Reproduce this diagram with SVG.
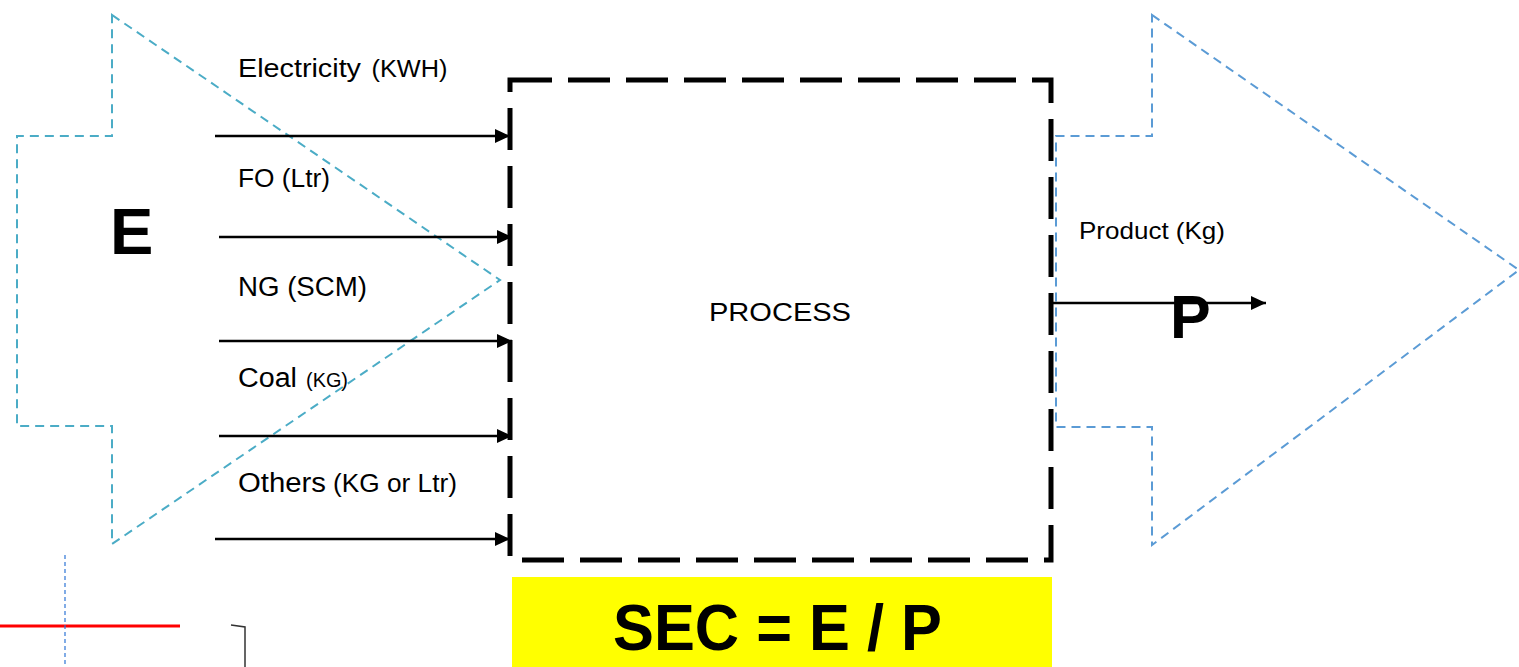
<svg xmlns="http://www.w3.org/2000/svg" width="1519" height="667" viewBox="0 0 1519 667">
<style>
.t{font-family:"Liberation Sans",Arial,sans-serif;fill:#000}
.b{font-weight:bold}
.conn{stroke:#000;stroke-width:2.5;fill:none;marker-end:url(#ah)}
</style>
<defs>
<marker id="ah" markerWidth="15" markerHeight="14" refX="15" refY="7" orient="auto" markerUnits="userSpaceOnUse">
<path d="M0,0 L15,7 L0,14 Z" fill="#000"/>
</marker>
</defs>
<rect width="1519" height="667" fill="#fff"/>
<g id="energy-arrow">
<polygon points="112,15 500,280 112,544 112,426 17,426 17,136 112,136" fill="none" stroke="#4BACC6" stroke-width="2" stroke-dasharray="9,6"/>
<text class="t b" x="110" y="254" font-size="65">E</text>
</g>
<g id="product-arrow">
<polygon points="1152,15 1519,270 1152,545 1152,427 1056,427 1056,136 1152,136" fill="none" stroke="#5B9BD5" stroke-width="2" stroke-dasharray="9,6"/>
</g>
<g id="process">
<rect x="510" y="80" width="541" height="480" fill="none" stroke="#000" stroke-width="5" stroke-dasharray="42,16"/>
<text class="t" x="709" y="321" font-size="26" textLength="142" lengthAdjust="spacingAndGlyphs">PROCESS</text>
</g>
<g id="connectors">
<line class="conn" x1="215" y1="136" x2="510" y2="136"/>
<line class="conn" x1="219" y1="237" x2="512" y2="237"/>
<line class="conn" x1="219" y1="341" x2="512" y2="341"/>
<line class="conn" x1="219" y1="436" x2="512" y2="436"/>
<line class="conn" x1="215" y1="539" x2="510" y2="539"/>
<line class="conn" x1="1053" y1="303" x2="1266" y2="303"/>
</g>
<g id="labels">
<text class="t" x="238" y="77" font-size="26" textLength="123" lengthAdjust="spacingAndGlyphs">Electricity</text>
<text class="t" x="371.5" y="77" font-size="23" textLength="76" lengthAdjust="spacingAndGlyphs">(KWH)</text>
<text class="t" x="238" y="187" font-size="25" textLength="92" lengthAdjust="spacingAndGlyphs">FO (Ltr)</text>
<text class="t" x="238" y="296" font-size="27" textLength="129" lengthAdjust="spacingAndGlyphs">NG (SCM)</text>
<text class="t" x="238" y="387" font-size="27" textLength="59" lengthAdjust="spacingAndGlyphs">Coal</text>
<text class="t" x="306" y="387" font-size="21" textLength="42" lengthAdjust="spacingAndGlyphs">(KG)</text>
<text class="t" x="238" y="492" font-size="27" textLength="88" lengthAdjust="spacingAndGlyphs">Others</text>
<text class="t" x="333" y="492" font-size="25" textLength="124" lengthAdjust="spacingAndGlyphs">(KG or Ltr)</text>
<text class="t" x="1079" y="239" font-size="24.5" textLength="146" lengthAdjust="spacingAndGlyphs">Product (Kg)</text>
<text class="t b" x="1170" y="338" font-size="61">P</text>
</g>
<g id="sec">
<rect x="512" y="577" width="540" height="90" fill="#FFFF00"/>
<text class="t b" x="613" y="650" font-size="65" textLength="329" lengthAdjust="spacingAndGlyphs">SEC = E / P</text>
</g>
<g id="fragments">
<line x1="0" y1="626" x2="180" y2="626" stroke="#FF0000" stroke-width="3"/>
<line x1="65" y1="555" x2="65" y2="667" stroke="#2E75D6" stroke-width="1.2" stroke-dasharray="4,3"/>
<path d="M231,625 L245,627 L245,667" fill="none" stroke="#333" stroke-width="1.5"/>
</g>
</svg>
